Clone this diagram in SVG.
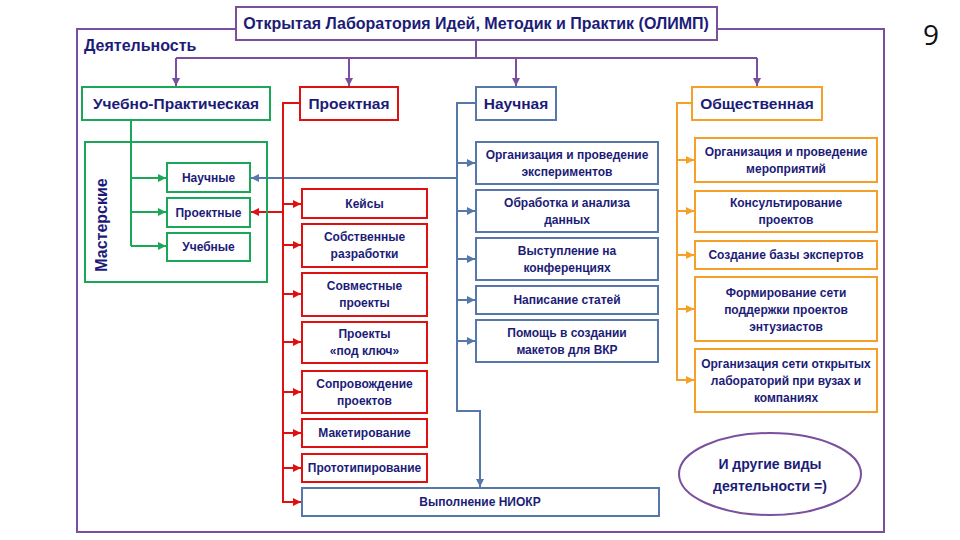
<svg xmlns="http://www.w3.org/2000/svg" width="960" height="540" viewBox="0 0 960 540">
<defs>
<style>
.t{font-family:"Liberation Sans","DejaVu Sans",sans-serif;font-weight:bold;fill:#1c1c78;text-anchor:middle}
.f16{font-size:16px}.f15{font-size:15.5px}.f14{font-size:14px}.f12{font-size:12px}
.box{fill:#fff;stroke-width:2}
.pu{stroke:#7a4f9e}.gr{stroke:#1aa858}.rd{stroke:#e01010}.bl{stroke:#5577aa}.or{stroke:#f5a028}
.ln{fill:none;stroke-width:2}
</style>
<marker id="ap" markerUnits="userSpaceOnUse" markerWidth="10" markerHeight="10" refX="8" refY="4" orient="auto"><path d="M0,0L8,4L0,8z" fill="#7a4f9e"/></marker>
<marker id="ag" markerUnits="userSpaceOnUse" markerWidth="10" markerHeight="10" refX="8" refY="4" orient="auto"><path d="M0,0L8,4L0,8z" fill="#1aa858"/></marker>
<marker id="ar" markerUnits="userSpaceOnUse" markerWidth="10" markerHeight="10" refX="8" refY="4" orient="auto"><path d="M0,0L8,4L0,8z" fill="#e01010"/></marker>
<marker id="ab" markerUnits="userSpaceOnUse" markerWidth="10" markerHeight="10" refX="8" refY="4" orient="auto"><path d="M0,0L8,4L0,8z" fill="#5577aa"/></marker>
<marker id="ao" markerUnits="userSpaceOnUse" markerWidth="10" markerHeight="10" refX="8" refY="4" orient="auto"><path d="M0,0L8,4L0,8z" fill="#f5a028"/></marker>
</defs>
<rect width="960" height="540" fill="#fff"/>
<rect x="77" y="29" width="807" height="503" class="ln pu"/>
<text x="931" y="45" font-family="'Open Sans','DejaVu Sans',sans-serif" font-size="28" fill="#111" text-anchor="middle">9</text>
<text class="t f16" x="84" y="51" style="text-anchor:start">Деятельность</text>

<g id="connectors">
<path class="ln pu" d="M476,40V58M176,58H757"/>
<path class="ln pu" d="M176,58V86" marker-end="url(#ap)"/>
<path class="ln pu" d="M349,58V86" marker-end="url(#ap)"/>
<path class="ln pu" d="M516,58V86" marker-end="url(#ap)"/>
<path class="ln pu" d="M757,58V86" marker-end="url(#ap)"/>
<path class="ln gr" d="M131,120V246"/>
<path class="ln gr" d="M131,178H166" marker-end="url(#ag)"/>
<path class="ln gr" d="M131,212H166" marker-end="url(#ag)"/>
<path class="ln gr" d="M131,246H166" marker-end="url(#ag)"/>
<path class="ln bl" d="M457,178H251" marker-end="url(#ab)"/>
<path class="ln rd" d="M300,103H283V502H301" marker-end="url(#ar)"/>
<path class="ln rd" d="M283,212H251" marker-end="url(#ar)"/>
<path class="ln rd" d="M283,204H301" marker-end="url(#ar)"/>
<path class="ln rd" d="M283,245H301" marker-end="url(#ar)"/>
<path class="ln rd" d="M283,294H301" marker-end="url(#ar)"/>
<path class="ln rd" d="M283,342H301" marker-end="url(#ar)"/>
<path class="ln rd" d="M283,392H301" marker-end="url(#ar)"/>
<path class="ln rd" d="M283,433H301" marker-end="url(#ar)"/>
<path class="ln rd" d="M283,468H301" marker-end="url(#ar)"/>
<path class="ln bl" d="M476,103H457V411H480V487" marker-end="url(#ab)"/>
<path class="ln bl" d="M457,163H475" marker-end="url(#ab)"/>
<path class="ln bl" d="M457,211H475" marker-end="url(#ab)"/>
<path class="ln bl" d="M457,259H475" marker-end="url(#ab)"/>
<path class="ln bl" d="M457,300H475" marker-end="url(#ab)"/>
<path class="ln bl" d="M457,341H475" marker-end="url(#ab)"/>
<path class="ln or" d="M692,103H677V380H694" marker-end="url(#ao)"/>
<path class="ln or" d="M677,160H694" marker-end="url(#ao)"/>
<path class="ln or" d="M677,211H694" marker-end="url(#ao)"/>
<path class="ln or" d="M677,255H694" marker-end="url(#ao)"/>
<path class="ln or" d="M677,309H694" marker-end="url(#ao)"/>
</g>

<g id="title"><rect x="236" y="7" width="481" height="33" class="box pu"/><text class="t f16" x="476" y="29">Открытая Лаборатория Идей, Методик и Практик (ОЛИМП)</text></g>

<g id="uchebno"><rect x="82" y="87" width="188" height="33" class="box gr"/><text class="t f15" x="176" y="109">Учебно-Практическая</text></g>
<g id="proektnaya"><rect x="300" y="87" width="98" height="33" class="box rd"/><text class="t f15" x="349" y="109">Проектная</text></g>
<g id="nauchnaya"><rect x="476" y="87" width="80" height="33" class="box bl"/><text class="t f15" x="516" y="109">Научная</text></g>
<g id="obshch"><rect x="692" y="87" width="130" height="33" class="box or"/><text class="t f15" x="757" y="109">Общественная</text></g>

<g id="masterskie"><rect x="85" y="142" width="182" height="140" fill="none" stroke="#1aa858" stroke-width="2"/><text class="t f16" transform="translate(107,225) rotate(-90)">Мастерские</text></g>
<g id="m-nauch"><rect x="167" y="163" width="83" height="29" class="box gr"/><text class="t f12" x="208.5" y="182">Научные</text></g>
<g id="m-proekt"><rect x="167" y="198" width="83" height="29" class="box gr"/><text class="t f12" x="208.5" y="217">Проектные</text></g>
<g id="m-ucheb"><rect x="167" y="233" width="83" height="28" class="box gr"/><text class="t f12" x="208.5" y="251">Учебные</text></g>

<g id="r1"><rect x="302" y="189" width="125" height="29" class="box rd"/><text class="t f12" x="364.5" y="208">Кейсы</text></g>
<g id="r2"><rect x="302" y="224" width="125" height="43" class="box rd"/><text class="t f12" x="364.5" y="241">Собственные</text><text class="t f12" x="364.5" y="258">разработки</text></g>
<g id="r3"><rect x="302" y="273" width="125" height="43" class="box rd"/><text class="t f12" x="364.5" y="290">Совместные</text><text class="t f12" x="364.5" y="307">проекты</text></g>
<g id="r4"><rect x="302" y="322" width="125" height="41" class="box rd"/><text class="t f12" x="364.5" y="338">Проекты</text><text class="t f12" x="364.5" y="355">«под ключ»</text></g>
<g id="r5"><rect x="302" y="371" width="125" height="42" class="box rd"/><text class="t f12" x="364.5" y="388">Сопровождение</text><text class="t f12" x="364.5" y="405">проектов</text></g>
<g id="r6"><rect x="302" y="419" width="125" height="28" class="box rd"/><text class="t f12" x="364.5" y="437">Макетирование</text></g>
<g id="r7"><rect x="302" y="454" width="125" height="28" class="box rd"/><text class="t f12" x="364.5" y="472">Прототипирование</text></g>
<g id="niokr"><rect x="302" y="488" width="357" height="28" class="box bl"/><text class="t f12" x="480" y="506">Выполнение НИОКР</text></g>

<g id="b1"><rect x="476" y="142" width="182" height="42" class="box bl"/><text class="t f12" x="567" y="159">Организация и проведение</text><text class="t f12" x="567" y="176">экспериментов</text></g>
<g id="b2"><rect x="476" y="190" width="182" height="42" class="box bl"/><text class="t f12" x="567" y="207">Обработка и анализа</text><text class="t f12" x="567" y="224">данных</text></g>
<g id="b3"><rect x="476" y="238" width="182" height="42" class="box bl"/><text class="t f12" x="567" y="255">Выступление на</text><text class="t f12" x="567" y="272">конференциях</text></g>
<g id="b4"><rect x="476" y="286" width="182" height="28" class="box bl"/><text class="t f12" x="567" y="304">Написание статей</text></g>
<g id="b5"><rect x="476" y="320" width="182" height="42" class="box bl"/><text class="t f12" x="567" y="337">Помощь в создании</text><text class="t f12" x="567" y="354">макетов для ВКР</text></g>

<g id="o1"><rect x="695" y="138" width="182" height="44" class="box or"/><text class="t f12" x="786" y="156">Организация и проведение</text><text class="t f12" x="786" y="173">мероприятий</text></g>
<g id="o2"><rect x="695" y="191" width="182" height="41" class="box or"/><text class="t f12" x="786" y="207">Консультирование</text><text class="t f12" x="786" y="224">проектов</text></g>
<g id="o3"><rect x="695" y="241" width="182" height="28" class="box or"/><text class="t f12" x="786" y="259">Создание базы экспертов</text></g>
<g id="o4"><rect x="695" y="277" width="182" height="64" class="box or"/><text class="t f12" x="786" y="297">Формирование сети</text><text class="t f12" x="786" y="314">поддержки проектов</text><text class="t f12" x="786" y="331">энтузиастов</text></g>
<g id="o5"><rect x="695" y="349" width="182" height="63" class="box or"/><text class="t f12" x="786" y="368">Организация сети открытых</text><text class="t f12" x="786" y="385">лабораторий при вузах и</text><text class="t f12" x="786" y="402">компаниях</text></g>

<g id="other"><ellipse cx="770" cy="474" rx="91" ry="41" fill="#fff" stroke="#7a4f9e" stroke-width="2"/><text class="t f14" x="770" y="469">И другие виды</text><text class="t f14" x="770" y="491">деятельности =)</text></g>
</svg>
